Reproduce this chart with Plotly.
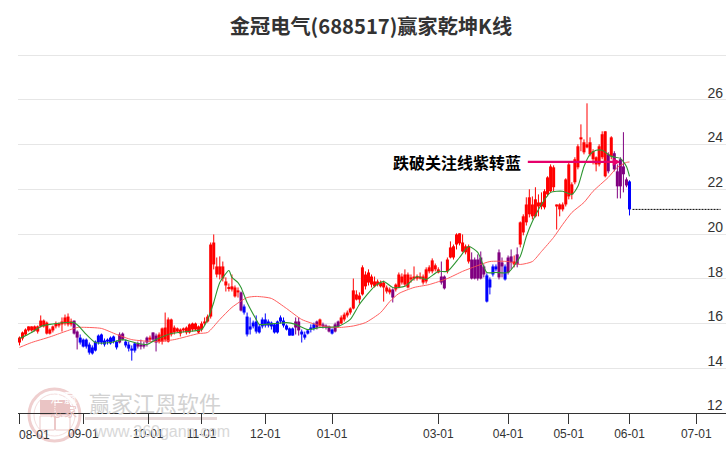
import plotly.graph_objects as go

TITLE = "金冠电气(688517)赢家乾坤K线"
SIGNAL_TEXT = "跌破关注线紫转蓝"

opens = [
    15.15,15.33,15.51,15.69,15.69,15.69,15.64,15.87,15.87,15.55,
    15.55,15.69,15.87,15.91,15.96,16.00,15.96,15.96,15.55,15.37,
    15.15,14.97,14.97,14.70,14.66,14.79,15.15,15.15,15.06,15.19,
    15.11,15.19,14.93,15.15,15.28,15.02,14.88,14.79,14.79,14.97,
    14.97,14.97,15.15,15.28,15.28,15.15,15.19,15.19,15.28,15.19,
    15.51,15.60,15.64,15.55,15.69,15.60,15.60,15.73,15.73,15.60,
    15.73,16.00,16.09,16.31,18.64,18.19,18.19,18.01,17.70,17.57,
    17.52,17.21,17.39,16.58,16.49,15.51,15.73,15.87,15.64,15.60,
    15.87,15.91,15.91,15.87,15.60,15.60,16.09,15.91,15.73,15.46,
    15.46,15.82,15.69,15.51,15.37,15.55,15.73,15.78,15.82,15.91,
    15.87,15.82,15.64,15.55,15.64,15.87,16.00,16.18,16.36,16.49,
    16.67,17.07,17.07,17.30,17.66,17.83,17.74,17.66,17.74,17.66,
    17.61,17.43,17.39,17.16,17.52,17.61,17.83,17.74,17.61,17.97,
    18.01,18.01,18.01,17.83,17.88,18.33,18.33,18.42,18.28,17.83,
    17.57,18.33,18.95,18.95,19.53,19.58,19.22,19.18,18.77,18.01,
    18.01,18.01,18.01,18.19,16.98,17.61,18.19,18.42,18.06,18.55,
    17.97,18.28,18.73,18.64,18.64,19.53,20.07,20.52,20.88,20.79,
    20.79,21.23,21.23,21.19,21.77,21.91,22.09,21.23,21.10,21.10,
    21.32,21.68,21.77,22.31,22.98,24.23,23.65,23.87,23.56,23.34,
    23.11,23.11,23.43,22.58,22.80,23.47,22.89,22.13,22.13,22.67,
    22.17,21.10,
]
closes = [
    15.37,15.60,15.73,15.87,15.87,15.87,15.87,16.13,16.13,16.04,
    15.73,15.87,16.00,16.00,16.09,16.27,16.31,16.09,16.13,15.64,
    15.37,15.28,15.28,15.06,14.93,15.19,15.46,15.51,15.24,15.28,
    15.37,15.42,15.19,15.51,15.55,15.19,15.06,14.88,15.11,15.11,
    15.06,15.06,15.37,15.37,15.60,15.46,15.51,15.78,15.82,16.18,
    16.18,15.82,15.78,15.73,15.78,15.82,15.96,16.00,16.00,15.87,
    16.00,16.09,16.31,19.53,19.62,18.55,18.55,18.55,17.88,17.61,
    17.66,17.61,17.48,17.39,16.76,16.31,15.87,16.04,16.09,15.87,
    16.18,16.18,16.09,16.04,15.96,16.09,16.27,16.13,15.91,15.78,
    15.78,16.09,16.09,15.64,15.51,15.69,15.82,15.96,16.09,16.18,
    15.96,15.91,15.87,15.73,15.96,16.09,16.27,16.40,16.49,16.67,
    17.48,17.30,17.25,18.51,18.19,18.28,18.10,17.88,17.88,17.83,
    17.83,17.61,17.52,17.52,17.74,18.19,18.10,18.19,18.19,18.06,
    18.10,18.10,18.10,18.10,18.42,18.51,18.82,18.60,18.42,18.10,
    18.10,18.86,19.40,19.45,19.98,20.03,19.62,19.45,19.45,18.86,
    18.86,18.86,18.95,18.55,18.15,17.97,18.55,18.55,19.18,18.73,
    18.55,18.95,19.00,18.77,19.09,20.52,20.79,21.32,21.64,21.32,
    21.55,21.41,21.41,21.91,22.53,23.02,22.98,21.32,21.32,21.32,
    22.44,23.11,22.22,23.34,23.92,24.32,24.10,24.01,24.10,23.70,
    23.43,23.92,24.46,24.59,23.56,24.32,23.61,22.80,23.34,23.02,
    22.44,22.35,
]
highs = [
    15.42,15.64,15.78,15.87,15.87,15.91,15.91,16.36,16.18,16.09,
    15.78,15.91,16.09,16.04,16.27,16.40,16.45,16.22,16.13,15.69,
    15.51,15.33,15.33,15.15,15.02,15.24,15.51,15.55,15.33,15.33,
    15.42,15.46,15.24,15.60,15.60,15.28,15.19,15.02,15.15,15.19,
    15.28,15.19,15.42,15.46,15.60,15.55,15.60,15.82,16.49,16.27,
    16.22,15.91,15.82,15.78,15.82,15.87,16.00,16.04,16.04,15.91,
    16.09,16.27,16.40,19.62,19.98,18.95,19.00,18.77,18.06,17.79,
    18.19,17.70,17.61,17.43,16.85,16.49,16.27,16.13,16.36,15.96,
    16.27,16.45,16.18,16.09,16.00,16.13,16.36,16.27,15.96,15.82,
    15.82,16.27,16.27,15.73,15.64,15.73,15.96,16.04,16.13,16.22,
    16.04,15.96,15.91,15.78,16.04,16.13,16.36,16.49,16.58,16.72,
    18.01,17.48,17.39,18.60,18.33,18.42,18.19,18.10,17.97,17.92,
    17.92,17.70,17.61,17.57,17.79,18.28,18.24,18.42,18.28,18.19,
    18.55,18.19,18.28,18.19,18.51,18.60,18.91,18.68,18.51,18.77,
    18.15,18.95,19.67,19.53,20.03,20.03,19.98,19.53,19.53,19.18,
    18.95,19.09,19.22,18.64,18.24,18.06,18.64,18.64,19.31,18.95,
    18.64,19.04,19.31,19.04,19.40,20.56,20.88,21.64,22.00,21.68,
    22.09,21.77,21.86,22.00,22.58,23.11,23.07,21.32,21.37,21.41,
    22.49,23.20,22.31,23.43,24.01,24.90,24.23,25.84,24.32,23.79,
    23.47,24.01,24.59,24.59,23.65,24.37,23.70,23.11,23.43,24.55,
    22.53,22.40,
]
lows = [
    15.02,15.24,15.46,15.64,15.64,15.64,15.55,15.82,15.82,15.51,
    15.51,15.60,15.78,15.82,15.64,15.91,15.87,15.87,15.51,14.84,
    15.06,14.93,14.88,14.61,14.61,14.75,15.06,15.06,14.97,15.06,
    15.06,15.11,14.84,15.11,15.24,14.93,14.75,14.34,14.70,14.88,
    14.84,14.88,14.97,15.19,15.19,14.75,15.11,15.06,15.19,15.15,
    15.42,15.51,15.60,15.42,15.60,15.51,15.55,15.64,15.69,15.55,
    15.64,15.91,16.04,16.22,18.42,18.06,17.97,17.88,17.43,17.43,
    17.43,17.16,17.16,16.54,16.40,15.42,15.51,15.78,15.55,15.55,
    15.78,15.82,15.82,15.73,15.55,15.55,16.00,15.82,15.69,15.46,
    15.46,15.51,15.46,15.15,15.28,15.51,15.60,15.69,15.73,15.82,
    15.78,15.73,15.60,15.51,15.60,15.82,15.96,16.09,16.27,16.40,
    16.63,17.03,16.89,17.25,17.52,17.70,17.61,17.61,17.66,17.61,
    16.98,17.34,17.30,16.94,17.43,17.57,17.74,17.66,17.57,17.83,
    17.92,17.92,17.97,17.74,17.79,18.24,18.24,18.33,18.24,17.74,
    17.52,18.24,18.91,18.86,19.31,19.49,19.18,19.09,18.68,17.97,
    17.97,17.92,17.97,18.06,16.94,17.30,18.10,18.33,17.97,18.06,
    17.92,18.19,18.42,18.51,18.51,19.40,19.94,20.38,20.74,20.65,
    20.74,20.79,21.10,21.10,21.68,21.86,21.91,20.20,20.79,21.01,
    21.23,21.55,21.55,22.22,22.89,23.70,23.56,23.83,23.47,23.11,
    22.80,23.02,23.34,22.53,22.71,23.34,22.80,21.59,21.59,21.86,
    22.09,20.83,
]
# One letter per session: r = rising state, b = falling state, p = transition state.
states = (
    "r" * 18 + "pp" + "b" * 13 + "pp" + "bbbb" + "pppp" + "r" + "pp"
    + "r" * 27 + "p" + "b" * 17 + "pp" + "b" * 5 + "p" + "r" + "ppp" + "b" + "pp"
    + "r" * 17 + "p" + "r" * 15 + "pp" + "r" * 8 + "p" * 5 + "bbbb" + "pp" + "b"
    + "pp" + "r" + "p" + "r" * 29 + "p" + "r" + "p" * 5 + "b"
)

fast_idx = [0,4,7,10,18,20,22,25,30,34,39,42,45,50,55,60,62,64,66,69,70,72,73,75,78,79,
            84,88,91,95,99,105,109,112,117,120,123,127,131,134,138,141,145,148,151,154,
            157,161,165,167,169,172,175,179,182,184,186,188,190,192,195,198,200,201]
fast_line = [15.33,15.60,15.87,15.96,16.04,15.82,15.51,15.15,15.15,15.28,15.11,15.06,15.28,
             15.55,15.64,15.73,16.18,16.94,17.83,18.37,18.06,17.83,17.61,16.94,16.18,15.96,
             16.00,16.04,15.96,15.73,15.82,15.87,16.18,16.85,17.66,17.88,17.61,17.66,18.10,
             17.97,18.33,18.33,18.95,19.44,19.18,18.28,18.28,18.28,19.00,19.89,20.56,21.32,
             21.86,21.91,21.77,22.13,23.02,23.56,23.74,23.74,23.47,23.38,23.02,22.58]

slow_idx = [0,4,10,15,19,21,27,32,37,45,51,59,62,66,70,75,78,83,88,93,99,105,110,114,119,
            122,125,130,135,141,146,151,155,161,165,169,172,176,179,182,186,189,194,197,200,201]
slow_line = [14.93,15.15,15.40,15.64,15.82,15.83,15.78,15.51,15.28,15.19,15.28,15.55,15.60,
             16.18,16.72,17.16,17.21,17.12,16.67,16.18,15.91,15.82,15.89,16.04,16.49,16.98,
             17.34,17.61,17.74,18.01,18.33,18.59,18.77,18.77,18.64,18.77,19.22,19.85,20.43,
             20.96,21.41,21.91,22.53,22.98,23.20,23.22]

tick_idx = [0,21,42.4,60,81,103,138,161,181,201,223]
tick_text = ["08-01","09-01","10-01","11-01","12-01","01-01","03-01","04-01","05-01","06-01","07-01"]
price_ticks = [12,14,16,18,20,22,24,26,28]
price_text = ["","14","16","18","20","22","24","26",""]
floor_price = 12

signal_price = 23.22
signal_start, signal_end = 167, 198
future_end = 231

STATE_COLOR = {"r": "#ff0000", "b": "#0000ff", "p": "#800080"}

W, H = 726, 450
LEFT, RIGHT, TOP, BOTTOM = 18, 0, 53, 37
plot_w, plot_h = W - LEFT - RIGHT, H - TOP - BOTTOM


def px(x):
    return (x - LEFT) / plot_w


def py(y):
    return (H - BOTTOM - y) / plot_h


idx = list(range(len(opens)))
fig = go.Figure()

# Wicks, one trace per state so each gets its own colour.
for key, colour in STATE_COLOR.items():
    wx, wy = [], []
    for i in idx:
        if states[i] == key:
            wx += [i, i, None]
            wy += [lows[i], highs[i], None]
    fig.add_trace(go.Scatter(x=wx, y=wy, mode="lines", hoverinfo="skip",
                             line=dict(color=colour, width=1)))

# Candle bodies.
fig.add_trace(go.Bar(
    x=idx,
    y=[abs(c - o) for o, c in zip(opens, closes)],
    base=[min(o, c) for o, c in zip(opens, closes)],
    width=1.0,
    marker=dict(color=[STATE_COLOR[s] for s in states], line=dict(width=0)),
    hoverinfo="skip",
))

fig.add_trace(go.Scatter(x=slow_idx, y=slow_line, mode="lines", hoverinfo="skip",
                         line=dict(color="#ff4d4d", width=1, shape="spline", smoothing=0.6),
                         opacity=0.9))
fig.add_trace(go.Scatter(x=fast_idx, y=fast_line, mode="lines", hoverinfo="skip",
                         line=dict(color="#2e9632", width=1.1, shape="spline", smoothing=0.6)))

# Dotted projection of the last close into the empty sessions.
fig.add_trace(go.Scatter(x=[idx[-1] + 1, future_end], y=[opens[-1], opens[-1]], mode="lines",
                         hoverinfo="skip", line=dict(color="#000000", width=1, dash="2px,1px")))

annotations = [
    dict(xref="paper", yref="paper", x=px(87), y=py(402), xanchor="left", yanchor="middle",
         text="赢家江恩软件", showarrow=False,
         font=dict(family="Noto Sans CJK SC", size=22, color="#d2d2d2")),
    dict(xref="paper", yref="paper", x=px(92), y=py(431), xanchor="left", yanchor="middle",
         text="www.360gann.com", showarrow=False,
         font=dict(family="Liberation Sans", size=16, color="#d8d8d8")),
    dict(xref="paper", yref="paper", x=px(47.5), y=py(407.5), text="江", showarrow=False,
         font=dict(family="Noto Sans CJK SC", size=13, color="#ffffff")),
    dict(xref="paper", yref="paper", x=px(62), y=py(407.5), text="赢", showarrow=False,
         font=dict(family="Noto Sans CJK SC", size=13, color="#ffffff")),
    dict(xref="paper", yref="paper", x=px(47.5), y=py(422.5), text="恩", showarrow=False,
         font=dict(family="Noto Sans CJK SC", size=13, color="#eac4c4")),
    dict(xref="paper", yref="paper", x=px(62), y=py(422.5), text="家", showarrow=False,
         font=dict(family="Noto Sans CJK SC", size=13, color="#eac4c4")),
    dict(xref="x", yref="paper", x=tick_idx[0], y=py(435), xanchor="left", yanchor="middle",
         xshift=-2, text=tick_text[0], showarrow=False,
         font=dict(family="Liberation Sans", size=12, color="#333333")),
    # The lowest price label sits on the axis line, above the plot floor.
    dict(xref="paper", yref="y", x=1, y=floor_price, xanchor="right", yanchor="bottom",
         text=str(floor_price), showarrow=False, xshift=-1, yshift=-2,
         font=dict(family="Liberation Sans", size=14, color="#333333")),
    dict(xref="x", yref="y", x=signal_end, y=signal_price, axref="x", ayref="y",
         ax=signal_start, ay=signal_price, text="", showarrow=True, arrowhead=2,
         arrowsize=0.7, arrowwidth=2.2, arrowcolor="#e6006b"),
    dict(xref="x", yref="y", x=signal_start - 1, y=signal_price, xanchor="right", yanchor="middle",
         text=SIGNAL_TEXT, showarrow=False,
         font=dict(family="Noto Sans CJK SC", size=16, color="#000000", weight="bold")),
]

shapes = [
    dict(type="circle", xref="paper", yref="paper", x0=px(29), x1=px(80), y0=py(389), y1=py(441),
         line=dict(color="#efcfcf", width=3), layer="below"),
    dict(type="circle", xref="paper", yref="paper", x0=px(34), x1=px(75), y0=py(394), y1=py(436),
         line=dict(color="#f3dddd", width=1), layer="below"),
    dict(type="rect", xref="paper", yref="paper", x0=px(40), x1=px(54.5), y0=py(400), y1=py(415),
         line=dict(width=0), fillcolor="#eac4c4", layer="below"),
    dict(type="rect", xref="paper", yref="paper", x0=px(55.5), x1=px(70), y0=py(400), y1=py(415),
         line=dict(width=0), fillcolor="#eac4c4", layer="below"),
    dict(type="rect", xref="paper", yref="paper", x0=px(40), x1=px(54.5), y0=py(416), y1=py(430),
         line=dict(color="#ecc9c9", width=1), layer="below"),
    dict(type="rect", xref="paper", yref="paper", x0=px(55.5), x1=px(70), y0=py(416), y1=py(430),
         line=dict(color="#ecc9c9", width=1), layer="below"),
    dict(type="rect", xref="paper", yref="paper", x0=px(85), x1=px(217), y0=py(417), y1=py(420),
         line=dict(width=0), fillcolor="#e6d8d8", layer="below"),
]

fig.update_layout(
    width=W, height=H,
    margin=dict(l=LEFT, r=RIGHT, t=TOP, b=BOTTOM, pad=0),
    paper_bgcolor="#ffffff", plot_bgcolor="#ffffff",
    showlegend=False, barmode="overlay",
    font=dict(family="Liberation Sans", color="#333333"),
    title=dict(text=TITLE, x=371 / W, xanchor="center", y=1 - 27 / H, yanchor="middle",
               font=dict(family="Noto Sans CJK SC", size=20.2, color="#333333", weight="bold")),
    annotations=annotations, shapes=shapes,
    xaxis=dict(
        range=[-0.49, 232.8], tickmode="array", tickvals=tick_idx,
        ticktext=[""] + tick_text[1:], ticks="outside", ticklen=10, tickwidth=1,
        tickcolor="#333333", showline=True, linecolor="#333333", linewidth=1,
        showgrid=False, zeroline=False, tickfont=dict(size=12, color="#333333"),
        fixedrange=True,
    ),
    yaxis=dict(
        range=[12, 28.09], side="right", tickmode="array", tickvals=price_ticks,
        ticktext=price_text, ticks="", ticklabelposition="inside", ticklabelshift=-7,
        showgrid=True, gridcolor="#e6e6e6", gridwidth=1, zeroline=False, showline=False,
        tickfont=dict(size=14, color="#333333"), fixedrange=True,
    ),
)

fig.write_html("out.html", config=dict(displayModeBar=False))
